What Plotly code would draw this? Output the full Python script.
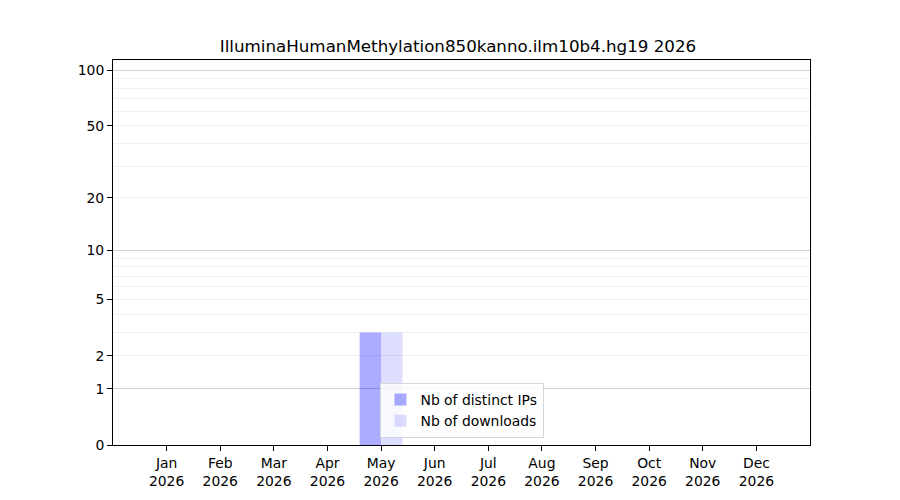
import numpy as np
import plotly.graph_objects as go

title = "IlluminaHumanMethylation850kanno.ilm10b4.hg19 2026"
months = ["Jan", "Feb", "Mar", "Apr", "May", "Jun",
          "Jul", "Aug", "Sep", "Oct", "Nov", "Dec"]
year = "2026"
distinct_ips = [0, 0, 0, 0, 3, 0, 0, 0, 0, 0, 0, 0]
downloads = [0, 0, 0, 0, 3, 0, 0, 0, 0, 0, 0, 0]

y_labels = [0, 1, 2, 5, 10, 20, 50, 100]
y_major_grid = [1, 10, 100]
y_minor_grid = [2, 3, 4, 5, 6, 7, 8, 9, 20, 30, 40, 50, 60, 70, 80, 90]


def tr(v):
    # log10(1 + y) axis, as in the original
    return np.log10(1 + np.asarray(v, dtype=float))


x = list(range(1, 13))
font = "DejaVu Sans, Liberation Sans, sans-serif"

fig = go.Figure()
fig.add_trace(go.Bar(
    x=x, y=tr(distinct_ips), name="Nb of distinct IPs",
    width=0.4, offset=-0.4,
    marker=dict(color="rgba(0,0,255,0.33)", line=dict(width=0)),
))
fig.add_trace(go.Bar(
    x=x, y=tr(downloads), name="Nb of downloads",
    width=0.4, offset=0.0,
    marker=dict(color="rgba(0,0,255,0.135)", line=dict(width=0)),
))
# invisible helper trace for the darker grid lines on a second axis
fig.add_trace(go.Scatter(x=[1], y=[0], yaxis="y2", mode="markers",
                         marker=dict(opacity=0), showlegend=False,
                         hoverinfo="skip"))

y_range = [0, float(tr(113.5))]

# page body has an 8px margin, so margins are shifted by 8px
fig.update_layout(
    width=900, height=500,
    margin=dict(l=105, r=98, t=52, b=63),
    paper_bgcolor="white", plot_bgcolor="rgba(0,0,0,0)",
    font=dict(family=font, size=13.9, color="black"),
    title=dict(text=title, x=0.5, xanchor="center", y=0.924, yanchor="middle",
               font=dict(size=16.7, color="black")),
    barmode="overlay",
    xaxis=dict(
        range=[0, 13], tickmode="array", tickvals=x,
        ticktext=[f"{m}<br>{year}" for m in months],
        showgrid=False, zeroline=False,
        showline=True, linecolor="black", linewidth=1, mirror=True,
        ticks="outside", ticklen=5, tickcolor="black",
    ),
    yaxis=dict(
        range=y_range, tickmode="array", tickvals=tr(y_labels),
        ticktext=[str(v) for v in y_labels],
        showgrid=False, zeroline=False,
        showline=True, linecolor="black", linewidth=1, mirror=True,
        ticks="outside", ticklen=5, tickcolor="black",
        minor=dict(tickmode="array", tickvals=tr(y_minor_grid),
                   showgrid=True, gridcolor="#f0f0f0", gridwidth=1, ticks=""),
    ),
    yaxis2=dict(
        range=y_range, overlaying="y", tickmode="array",
        tickvals=tr(y_major_grid), showticklabels=False, ticks="",
        showgrid=True, gridcolor="#d0d0d0", gridwidth=1, zeroline=False,
        showline=False,
    ),
    legend=dict(
        x=0.5, xanchor="center", y=0.018, yanchor="bottom",
        bgcolor="rgba(255,255,255,0.8)", bordercolor="#d6d6d6", borderwidth=1,
        font=dict(size=13.9), tracegroupgap=4,
    ),
)

fig.write_html("out.html")
